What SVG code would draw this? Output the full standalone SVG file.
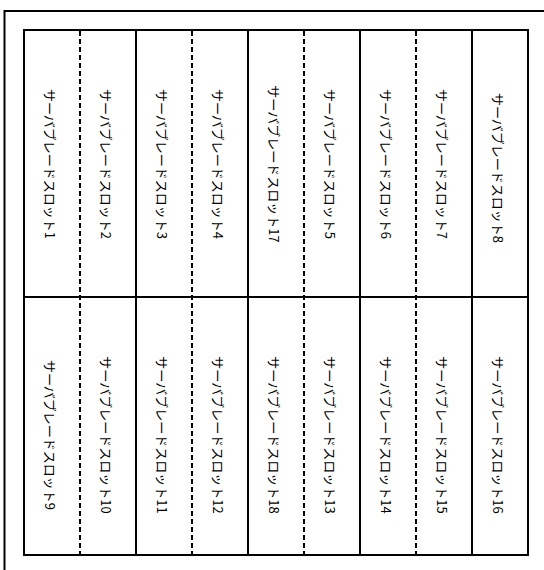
<svg xmlns="http://www.w3.org/2000/svg" width="544" height="570" viewBox="0 0 544 570">
<style>
.frame{fill:none;stroke:#000;stroke-width:2}
.solid{stroke:#000;stroke-width:2}
.dash{stroke:#000;stroke-width:2;stroke-dasharray:5 3}
.lbl{font-family:"Noto Sans CJK JP","Liberation Sans",sans-serif;font-size:13px;fill:#000;text-anchor:middle;dominant-baseline:central}
</style>
<rect x="0" y="0" width="544" height="570" fill="#fff"/>
<rect class="frame" x="4.5" y="11" width="560" height="580"/>
<g id="connectors">
<rect class="frame" x="24" y="30" width="504" height="525"/>
<line class="solid" x1="24" y1="297" x2="528" y2="297"/>
<line class="solid" x1="136" y1="30" x2="136" y2="555"/>
<line class="solid" x1="248" y1="30" x2="248" y2="555"/>
<line class="solid" x1="360" y1="30" x2="360" y2="555"/>
<line class="solid" x1="472" y1="30" x2="472" y2="555"/>
<line class="dash" x1="80" y1="31" x2="80" y2="554"/>
<line class="dash" x1="192" y1="31" x2="192" y2="554"/>
<line class="dash" x1="304" y1="31" x2="304" y2="554"/>
<line class="dash" x1="416" y1="31" x2="416" y2="554"/>
</g>
<g id="slot1"><text class="lbl" transform="translate(50.5,164) rotate(90)">サーバブレードスロット1</text></g>
<g id="slot2"><text class="lbl" transform="translate(106.5,164) rotate(90)">サーバブレードスロット2</text></g>
<g id="slot3"><text class="lbl" transform="translate(162.5,164) rotate(90)">サーバブレードスロット3</text></g>
<g id="slot4"><text class="lbl" transform="translate(218.5,164) rotate(90)">サーバブレードスロット4</text></g>
<g id="slot17"><text class="lbl" transform="translate(274.5,164) rotate(90)">サーバブレードスロット17</text></g>
<g id="slot5"><text class="lbl" transform="translate(330.5,164) rotate(90)">サーバブレードスロット5</text></g>
<g id="slot6"><text class="lbl" transform="translate(386.5,164) rotate(90)">サーバブレードスロット6</text></g>
<g id="slot7"><text class="lbl" transform="translate(442.5,164) rotate(90)">サーバブレードスロット7</text></g>
<g id="slot8"><text class="lbl" transform="translate(498.5,168) rotate(90)">サーバブレードスロット8</text></g>
<g id="slot9"><text class="lbl" transform="translate(50.5,435) rotate(90)">サーバブレードスロット9</text></g>
<g id="slot10"><text class="lbl" transform="translate(106.5,435) rotate(90)">サーバブレードスロット10</text></g>
<g id="slot11"><text class="lbl" transform="translate(162.5,435) rotate(90)">サーバブレードスロット11</text></g>
<g id="slot12"><text class="lbl" transform="translate(218.5,435) rotate(90)">サーバブレードスロット12</text></g>
<g id="slot18"><text class="lbl" transform="translate(274.5,435) rotate(90)">サーバブレードスロット18</text></g>
<g id="slot13"><text class="lbl" transform="translate(330.5,435) rotate(90)">サーバブレードスロット13</text></g>
<g id="slot14"><text class="lbl" transform="translate(386.5,435) rotate(90)">サーバブレードスロット14</text></g>
<g id="slot15"><text class="lbl" transform="translate(442.5,435) rotate(90)">サーバブレードスロット15</text></g>
<g id="slot16"><text class="lbl" transform="translate(498.5,435) rotate(90)">サーバブレードスロット16</text></g>
</svg>
